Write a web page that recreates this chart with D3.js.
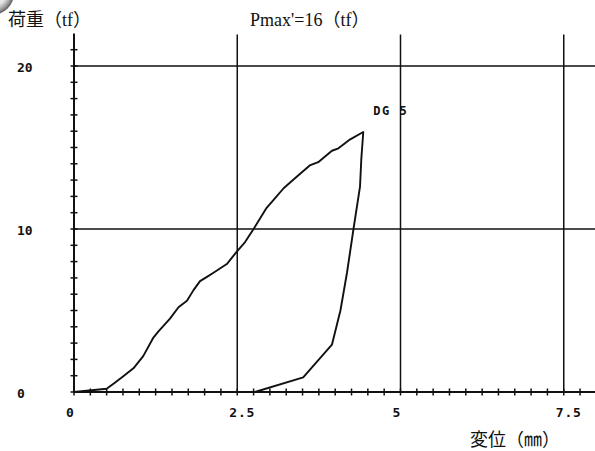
<!DOCTYPE html>
<html>
<head>
<meta charset="utf-8">
<script src="https://cdn.jsdelivr.net/npm/d3@7"></script>
<style>
  body { margin: 0; background: #fff; }
  svg { display: block; }
</style>
</head>
<body>
<div id="chart"></div>
<script>
// load-displacement curve, DG 5 (displacement mm, load tf)
var loadDisp = [0, 0.5, 0.62, 0.75, 0.91, 1.06, 1.21, 1.29, 1.38, 1.47, 1.60, 1.73, 1.83, 1.93, 2.03, 2.13, 2.34, 2.49, 2.62, 2.75, 2.95, 3.08, 3.21, 3.41, 3.61, 3.74, 3.95, 4.05, 4.23, 4.43];
var loadForce = [0, 0.2, 0.55, 0.95, 1.45, 2.2, 3.3, 3.7, 4.1, 4.5, 5.2, 5.6, 6.25, 6.8, 7.05, 7.3, 7.85, 8.6, 9.2, 10.0, 11.3, 11.9, 12.5, 13.2, 13.9, 14.1, 14.8, 14.95, 15.5, 15.95];
var unloadDisp = [4.43, 4.4, 4.38, 4.28, 4.18, 4.08, 3.95, 3.51, 2.77];
var unloadForce = [15.95, 14.3, 12.6, 10.0, 7.3, 5.0, 2.9, 0.9, 0];

var xTicks = [0, 2.5, 5, 7.5];
var xTickLabels = ["0", "2.5", "5", "7.5"];
var yTicks = [0, 10, 20];
var yTickLabels = ["0", "10", "20"];
var xMinor = d3.range(0, 8.01, 0.25);
var yMinor = d3.range(0, 21.5, 1);

var yTitle = "荷重（tf）";
var topTitle = "Pmax'=16（tf）";
var xTitle = "変位（㎜）";
var specimen = "DG 5";

var W = 595, H = 451;
var margin = {left: 74, top: 33.4, bottom: 59};

var svg = d3.select("#chart").append("svg")
    .attr("width", W).attr("height", H);

var x = d3.scaleLinear().domain([0, 8]).range([margin.left, margin.left + 8 * 65.3]);
var y = d3.scaleLinear().domain([0, 22]).range([H - margin.bottom, margin.top]);

// scanning blob top-left
var defs = svg.append("defs");
var grad = defs.append("radialGradient").attr("id", "blob")
    .attr("cx", "50%").attr("cy", "50%").attr("r", "50%")
    .attr("fx", "60%").attr("fy", "45%");
grad.append("stop").attr("offset", "0%").attr("stop-color", "#ffffff");
grad.append("stop").attr("offset", "60%").attr("stop-color", "#e4e4e4");
grad.append("stop").attr("offset", "85%").attr("stop-color", "#9a9a9a");
grad.append("stop").attr("offset", "100%").attr("stop-color", "#555555");
svg.append("circle").attr("cx", -8).attr("cy", -7).attr("r", 22)
    .attr("fill", "url(#blob)");

var ink = "#111";

// grid lines
svg.selectAll(".vgrid")
  .data(xTicks.filter(function(d){ return d > 0; }))
  .enter().append("line")
    .attr("x1", function(d){ return x(d); }).attr("x2", function(d){ return x(d); })
    .attr("y1", y(0)).attr("y2", y(22) + 1)
    .attr("stroke", ink).attr("stroke-width", 1.5);
svg.selectAll(".hgrid")
  .data(yTicks.filter(function(d){ return d > 0; }))
  .enter().append("line")
    .attr("x1", x(0)).attr("x2", W)
    .attr("y1", function(d){ return y(d); }).attr("y2", function(d){ return y(d); })
    .attr("stroke", ink).attr("stroke-width", 1.7);

// axes
svg.append("line").attr("x1", x(0)).attr("x2", W).attr("y1", y(0)).attr("y2", y(0))
    .attr("stroke", ink).attr("stroke-width", 2);
svg.append("line").attr("x1", x(0)).attr("x2", x(0)).attr("y1", y(0)).attr("y2", y(22))
    .attr("stroke", ink).attr("stroke-width", 2);

// minor ticks
svg.selectAll(".xminor").data(xMinor).enter().append("line")
    .attr("x1", function(d){ return x(d); }).attr("x2", function(d){ return x(d); })
    .attr("y1", y(0) - 3.5).attr("y2", y(0) + 3.5)
    .attr("stroke", ink).attr("stroke-width", 1.5);
svg.selectAll(".yminor").data(yMinor).enter().append("line")
    .attr("x1", x(0) - 3.5).attr("x2", x(0) + 3.5)
    .attr("y1", function(d){ return y(d); }).attr("y2", function(d){ return y(d); })
    .attr("stroke", ink).attr("stroke-width", 1.5);

// tick labels
var monoFont = "'DejaVu Sans Mono', monospace";
svg.selectAll(".xlab").data(xTicks).enter().append("text")
    .attr("x", function(d){ return x(d) - 8; })
    .attr("y", y(0) + 20)
    .attr("dominant-baseline", "central")
    .attr("font-family", monoFont).attr("font-weight", "bold").attr("font-size", 13)
    .attr("letter-spacing", 0.8).attr("fill", ink)
    .text(function(d, i){ return xTickLabels[i]; });
svg.selectAll(".ylab").data(yTicks).enter().append("text")
    .attr("x", 17)
    .attr("y", function(d){ return y(d) + 1; })
    .attr("dominant-baseline", "central")
    .attr("font-family", monoFont).attr("font-weight", "bold").attr("font-size", 13)
    .attr("fill", ink)
    .text(function(d, i){ return yTickLabels[i]; });

// titles
var serifFont = "'Liberation Serif', 'Noto Sans CJK JP', serif";
svg.append("text").attr("x", 8).attr("y", 26)
    .attr("font-family", serifFont).attr("font-size", 18).attr("fill", ink)
    .text(yTitle);
svg.append("text").attr("x", 250).attr("y", 26)
    .attr("font-family", serifFont).attr("font-size", 18).attr("fill", ink)
    .text(topTitle);
svg.append("text").attr("x", 470).attr("y", 446)
    .attr("font-family", serifFont).attr("font-size", 18).attr("fill", ink)
    .text(xTitle);

// curve
var pts = loadDisp.map(function(d, i){ return [d, loadForce[i]]; })
  .concat(unloadDisp.slice(1).map(function(d, i){ return [d, unloadForce[i + 1]]; }));
var line = d3.line()
    .x(function(d){ return x(d[0]); })
    .y(function(d){ return y(d[1]); });
svg.append("path").datum(pts)
    .attr("d", line)
    .attr("fill", "none").attr("stroke", ink).attr("stroke-width", 1.9)
    .attr("stroke-linejoin", "round");

// specimen label
svg.append("text")
    .attr("x", x(loadDisp[loadDisp.length - 1]) + 10)
    .attr("y", y(loadForce[loadForce.length - 1]) - 21)
    .attr("dominant-baseline", "central")
    .attr("font-family", monoFont).attr("font-weight", "bold").attr("font-size", 12)
    .attr("letter-spacing", 1.5).attr("fill", ink)
    .text(specimen);
</script>
</body>
</html>
